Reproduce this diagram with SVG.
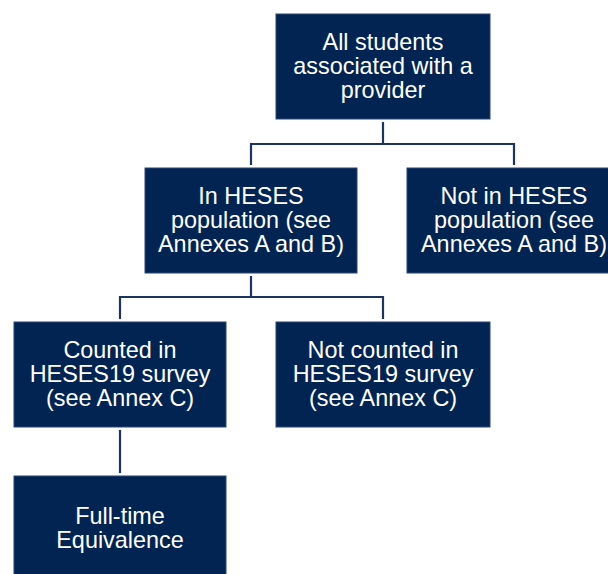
<svg xmlns="http://www.w3.org/2000/svg" width="608" height="574" viewBox="0 0 608 574">
<style>
.box{fill:#022452;stroke:#2b4675;stroke-width:1}
.lbl{font-family:"Liberation Sans",Arial,sans-serif;font-size:23.4px;fill:#ffffff;text-anchor:middle}
.con{fill:none;stroke:#1c3461;stroke-width:2.2}
</style>
<rect width="608" height="574" fill="#ffffff"/>
<g id="connectors">
<path class="con" d="M383 122V144M251 165V144H514V165"/>
<path class="con" d="M251 276V297M120 319V297H383V319"/>
<path class="con" d="M120 430V473"/>
</g>
<g id="all-students">
<rect class="box" x="276" y="14" width="214" height="105"/>
<text class="lbl"><tspan x="383" y="50">All students</tspan><tspan x="383" y="73.7">associated with a</tspan><tspan x="383" y="97.5">provider</tspan></text>
</g>
<g id="in-heses">
<rect class="box" x="145" y="168" width="212" height="105"/>
<text class="lbl"><tspan x="251" y="204">In HESES</tspan><tspan x="251" y="227.7">population (see</tspan><tspan x="251" y="251.5">Annexes A and B)</tspan></text>
</g>
<g id="not-in-heses">
<rect class="box" x="407" y="168" width="214" height="105"/>
<text class="lbl"><tspan x="514" y="204">Not in HESES</tspan><tspan x="514" y="227.7">population (see</tspan><tspan x="514" y="251.5">Annexes A and B)</tspan></text>
</g>
<g id="counted">
<rect class="box" x="14" y="322" width="212" height="105"/>
<text class="lbl"><tspan x="120" y="358">Counted in</tspan><tspan x="120" y="381.7">HESES19 survey</tspan><tspan x="120" y="405.5">(see Annex C)</tspan></text>
</g>
<g id="not-counted">
<rect class="box" x="276" y="322" width="214" height="105"/>
<text class="lbl"><tspan x="383" y="358">Not counted in</tspan><tspan x="383" y="381.7">HESES19 survey</tspan><tspan x="383" y="405.5">(see Annex C)</tspan></text>
</g>
<g id="fte">
<rect class="box" x="14" y="476" width="212" height="105"/>
<text class="lbl"><tspan x="120" y="524">Full-time</tspan><tspan x="120" y="548">Equivalence</tspan></text>
</g>
</svg>
